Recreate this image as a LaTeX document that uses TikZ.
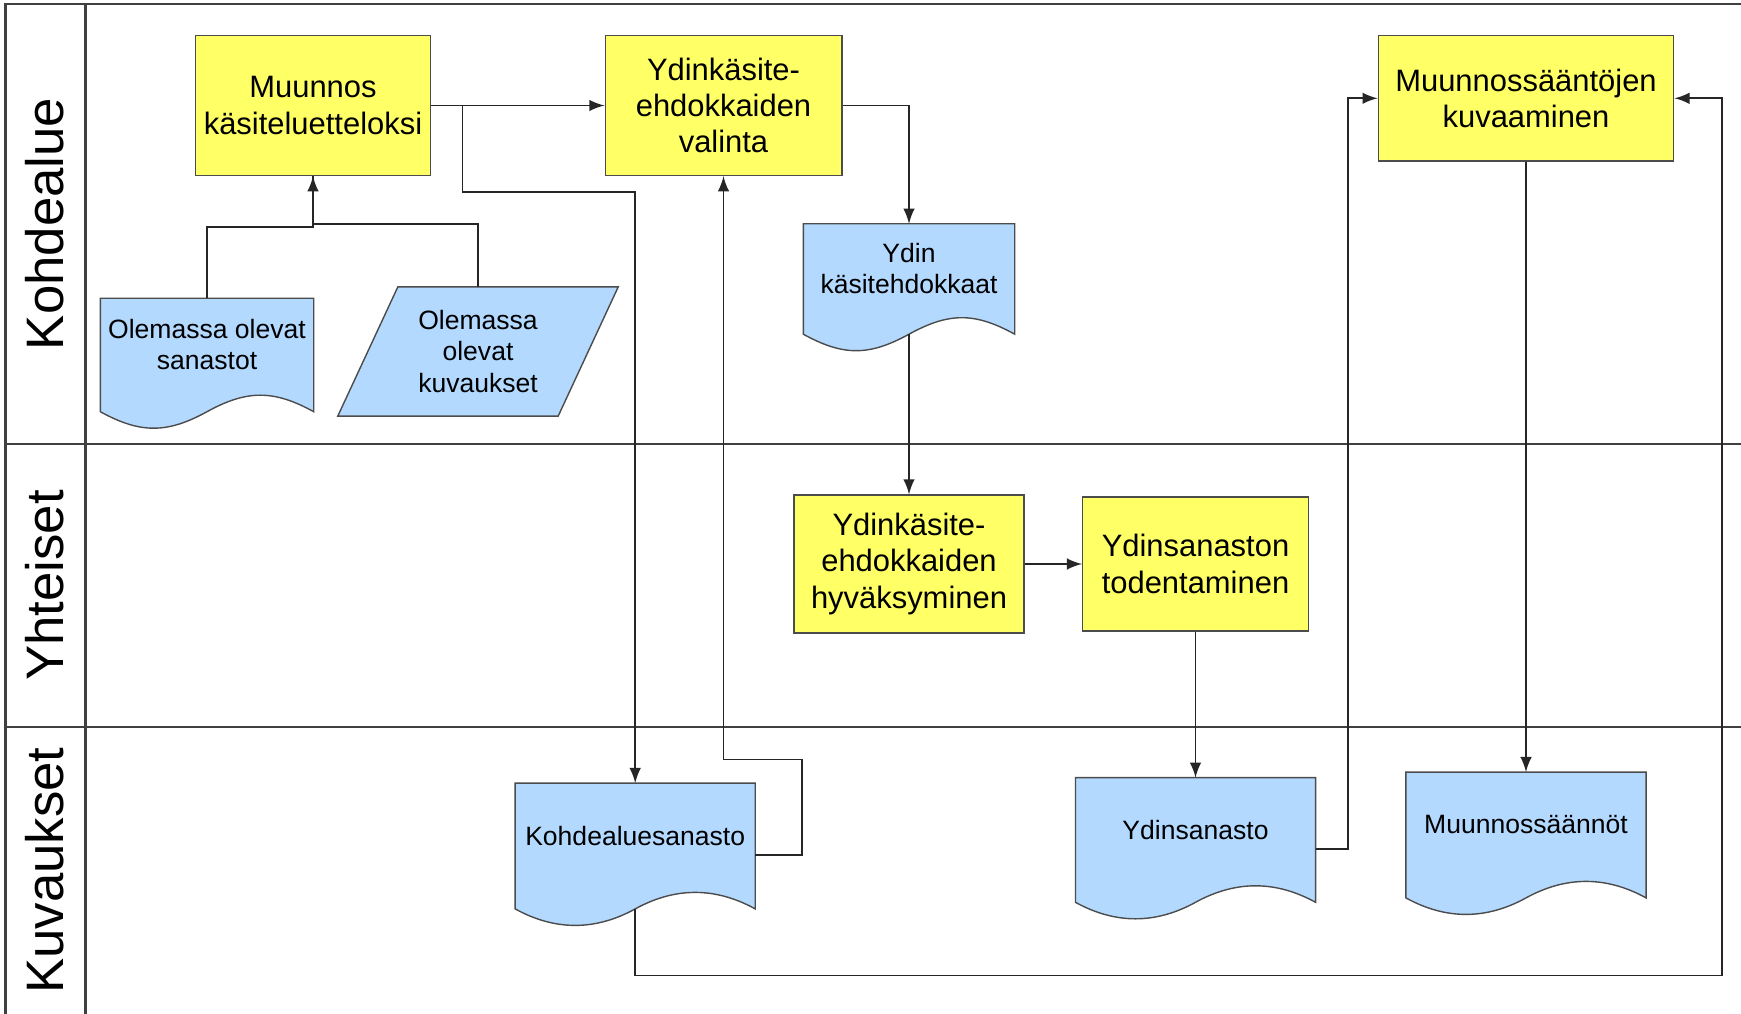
\documentclass[tikz,border=0pt]{standalone}
\usepackage{fontspec}
\setmainfont{Liberation Sans}
\usetikzlibrary{arrows}
\definecolor{procyellow}{RGB}{255,255,102}
\definecolor{docblue}{RGB}{179,217,255}
\pgfdeclarelayer{background}
\pgfsetlayers{background,main}
\tikzset{
lane/.style={ % Lines of the swimlanes
line width=0.8pt,
draw=black!75},
lanelabel/.style={rotate=90, inner sep=0pt, font=\fontsize{15}{18}\selectfont},
proc/.style={ % Yellow process boxes
draw=black!70,
fill=procyellow,
align=center,
inner sep=0pt,
font=\fontsize{8.8}{10.3}\selectfont},
docu/.style={ % Blue documents, text a bit above the middle
align=center,
inner sep=0pt,
text depth=6pt,
font=\fontsize{7.55}{9}\selectfont},
datain/.style={align=center, inner sep=0pt, font=\fontsize{7.55}{9}\selectfont},
docshape/.style={draw=black!70, fill=docblue},
flow/.style={draw=black!85, line width=0.5pt},
arr/.style={flow, ->, >=latex}}
\begin{document}
\begin{tikzpicture}[x=1cm, y=-1cm]
\useasboundingbox (0,0) rectangle (17.41,10.14);
% swimlanes
\draw[lane] (0.055,10.14) -- (0.055,0.04) -- (17.41,0.04);
\draw[lane] (0.855,0.04) -- (0.855,10.14);
\draw[lane] (0.055,4.44) -- (17.41,4.44);
\draw[lane] (0.055,7.27) -- (17.41,7.27);
\node[lanelabel] (kohdealue) at (0.444,2.24) {Kohdealue};
\node[lanelabel] (yhteiset) at (0.444,5.855) {Yhteiset};
\node[lanelabel] (kuvauksetlane) at (0.444,8.705) {Kuvaukset};

% Kohdealue
\node[proc, minimum width=2.355cm, minimum height=1.4cm] (mkl) at (3.13,1.055) {Muunnos\\käsiteluetteloksi};
\node[proc, minimum width=2.366cm, minimum height=1.4cm] (valinta) at (7.235,1.055) {Ydinkäsite-\\ehdokkaiden\\valinta};
\node[proc, minimum width=2.954cm, minimum height=1.255cm] (kuvaaminen) at (15.26,0.983) {Muunnossääntöjen\\kuvaaminen};
\node[docu, minimum width=2.1cm, minimum height=1.09cm] (ehdokkaat) at (9.09,2.79) {Ydin\\käsitehdokkaat};
\node[docu, minimum width=2.12cm, minimum height=1.12cm] (sanastot) at (2.07,3.55) {Olemassa olevat\\sanastot};
\node[datain, minimum width=2.19cm, minimum height=1.277cm] (kuvaukset) at (4.78,3.515) {Olemassa\\olevat\\kuvaukset};

% Yhteiset
\node[proc, minimum width=2.3cm, minimum height=1.377cm] (hyvaks) at (9.09,5.64) {Ydinkäsite-\\ehdokkaiden\\hyväksyminen};
\node[proc, minimum width=2.255cm, minimum height=1.344cm] (todent) at (11.955,5.64) {Ydinsanaston\\todentaminen};

% Kuvaukset
\node[docu, minimum width=2.387cm, minimum height=1.244cm] (kohdesan) at (6.352,8.46) {Kohdealuesanasto};
\node[docu, minimum width=2.387cm, minimum height=1.232cm] (ydinsan) at (11.955,8.40) {Ydinsanasto};
\node[docu, minimum width=2.388cm, minimum height=1.244cm] (saannot) at (15.26,8.35) {Muunnossäännöt};

% document and data shapes behind the texts
\begin{pgfonlayer}{background}
\foreach \d in {ehdokkaat,sanastot,kohdesan,ydinsan,saannot}
  \draw[docshape] (\d.south west) -- (\d.north west) -- (\d.north east) -- (\d.south east)
    .. controls +(-0.4,-0.22) and +(0.4,-0.22) .. (\d.south)
    .. controls +(-0.4,0.22) and +(0.4,0.22) .. (\d.south west) -- cycle;
\draw[docshape] ([xshift=0.3cm]kuvaukset.north west) -- ([xshift=0.3cm]kuvaukset.north east)
  -- ([xshift=-0.3cm]kuvaukset.south east) -- ([xshift=-0.3cm]kuvaukset.south west) -- cycle;
\end{pgfonlayer}

% flows
\draw[arr] (mkl.east) -- (valinta.west);
\draw[arr] (mkl.east) -- ++(0.31,0) -- ++(0,0.866) -| (kohdesan.north);
\draw[arr] (kuvaukset.north) -- ++(0,-0.63) -| (mkl.south);
\draw[flow] (sanastot.north) -- ++(0,-0.71) -| (mkl.south);
\draw[arr] (valinta.east) -| (ehdokkaat.north);
\draw[arr] (ehdokkaat.south) -- (hyvaks.north);
\draw[arr] (hyvaks.east) -- (todent.west);
\draw[arr] (todent.south) -- (ydinsan.north);
\draw[arr] ([yshift=-0.09cm]kohdesan.east) -- ++(0.467,0) -- ++(0,-0.955) -| (valinta.south);
\draw[arr] ([yshift=-0.09cm]ydinsan.east) -- ++(0.322,0) |- (kuvaaminen.west);
\draw[arr] (kuvaaminen.south) -- (saannot.north);
\draw[arr] (kohdesan.south) -- ++(0,0.666) -| ([xshift=0.478cm]kuvaaminen.east) -- (kuvaaminen.east);
\end{tikzpicture}
\end{document}
